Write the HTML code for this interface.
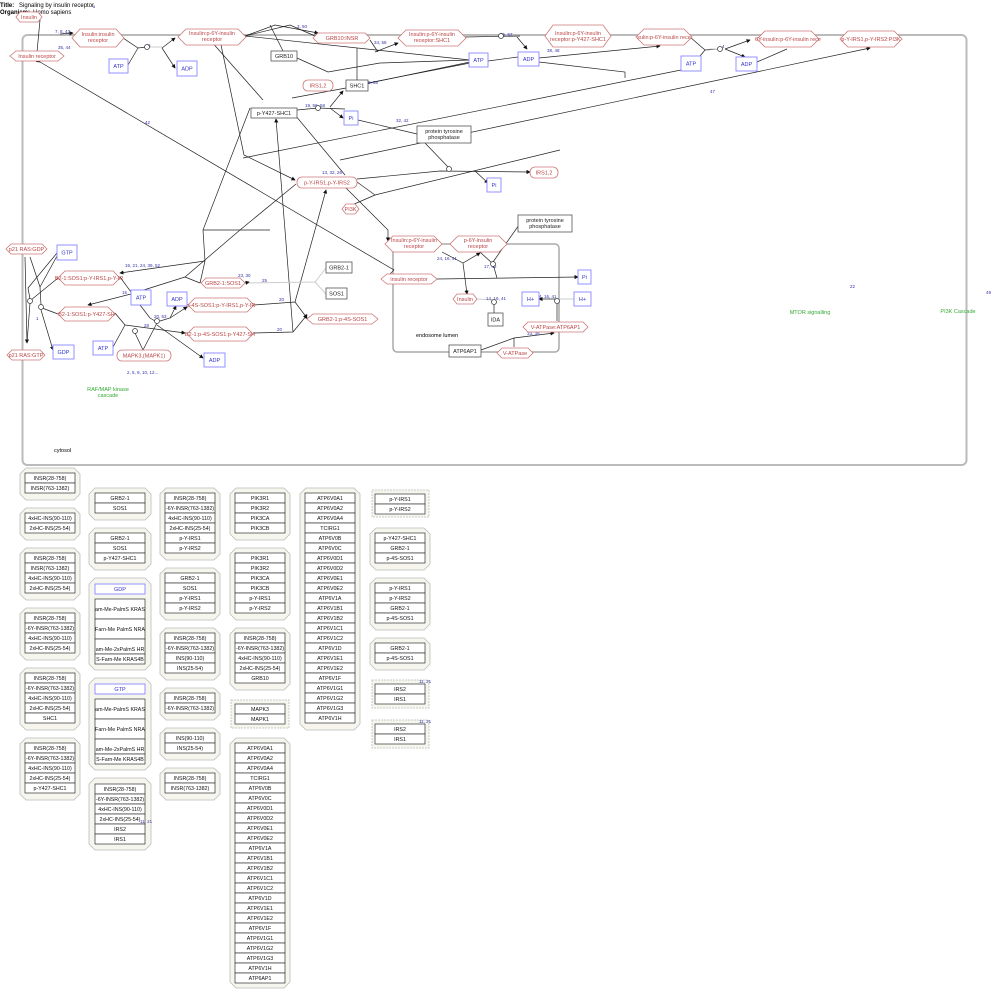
<!DOCTYPE html>
<html><head><meta charset="utf-8"><style>
html,body{margin:0;padding:0;background:#fff;width:1000px;height:998px;overflow:hidden}
svg{font-family:"Liberation Sans",sans-serif}
.hx{fill:#fff;stroke:#c77;stroke-width:.8}
.ht{fill:#b44;font-size:5.5px;text-anchor:middle}
.bx{fill:#fff;stroke:#555;stroke-width:.8}
.bt{fill:#222;font-size:5.5px;text-anchor:middle}
.bb{fill:#fff;stroke:#88f;stroke-width:.9}
.btb{fill:#33c;font-size:5.5px;text-anchor:middle}
.rr{fill:#fff;stroke:#c77;stroke-width:.8}
.l{stroke:#222;stroke-width:.7;fill:none}
.lg{stroke:#ccc;stroke-width:1;fill:none}
.lb{fill:#33a;font-size:4.5px}
.oc{fill:#f6f6ef;stroke:#bbb;stroke-width:.8}
.ocd{fill:#f6f6ef;stroke:#bbb;stroke-width:.8;stroke-dasharray:2,1}
.r{fill:#fff;stroke:#333;stroke-width:.7}
.rt{fill:#111;font-size:5.3px;text-anchor:middle}
.gr{fill:#3a3;font-size:5.5px;text-anchor:middle}
</style></head><body>
<svg width="1000" height="998" viewBox="0 0 1000 998" xmlns="http://www.w3.org/2000/svg">
<defs><marker id="a" markerWidth="6" markerHeight="6" refX="5" refY="3" orient="auto"><path d="M0,0 L6,3 L0,6z" fill="#111"/></marker></defs>
<text x="0" y="7" font-size="6" font-weight="bold">Title:</text><text x="19" y="7" font-size="6">Signaling by insulin receptor</text><text x="93" y="8" font-size="4" fill="#33a">8</text>
<text x="0" y="14" font-size="6" font-weight="bold">Organism:</text><text x="33" y="14" font-size="6">Homo sapiens</text>
<rect x="22.5" y="35" width="944" height="430" rx="5" fill="none" stroke="#bbb" stroke-width="2"/>
<rect x="393" y="244" width="166" height="108" rx="4" fill="none" stroke="#aaa" stroke-width="1.5"/>
<g class="l">
<path d="M40,20 L37,52"/>
<path d="M60,34 L73,33" marker-end="url(#a)"/>
<path d="M120,36 L138,48 L147,47"/><path d="M128,65 L138,48"/>
<path d="M162,48 L175,38" marker-end="url(#a)"/><path d="M162,48 L175,68" marker-end="url(#a)"/>
<path d="M245,36 L275,25 L318,33" marker-end="url(#a)"/>
<path d="M245,36 L290,25 L315,36"/><path d="M283,51 L270,25"/>
<path d="M297,58 L328,72 L380,63 L470,60"/><path d="M245,36 L470,60"/>
<path d="M370,40 L378,52"/><path d="M375,52 L398,43" marker-end="url(#a)"/>
<path d="M357,80 L357,48"/>
<path d="M292,98 L346,88 L470,62"/><path d="M368,83 L470,63"/>
<path d="M297,110 L318,108 L345,109"/><path d="M330,107 L343,91" marker-end="url(#a)"/><path d="M330,108 L343,118" marker-end="url(#a)"/>
<path d="M465,37 L520,36"/><path d="M488,61 L518,57"/>
<path d="M517,37 L527,49" marker-end="url(#a)"/>
<path d="M539,62 L625,72 L625,78"/><path d="M539,58 L660,46" marker-end="url(#a)"/>
<path d="M690,37 L705,50 L720,49"/><path d="M700,56 L705,50"/>
<path d="M725,49 L750,40" marker-end="url(#a)"/><path d="M725,49 L745,57" marker-end="url(#a)"/>
<path d="M757,62 L787,49"/><path d="M243,158 L681,70"/>
<path d="M340,160 L870,48" marker-end="url(#a)"/>
<path d="M358,120 L417,134"/><path d="M425,143 L449,168"/>
<path d="M357,179 L440,171 L530,172" marker-end="url(#a)"/><path d="M475,171 L488,183" marker-end="url(#a)"/>
<path d="M352,205 L375,195 L560,150"/><path d="M357,182 L375,195"/>
<path d="M345,187 L388,230 L388,241" marker-end="url(#a)"/>
<path d="M244,155 L295,180" marker-end="url(#a)"/>
<path d="M244,155 L220,40" marker-end="url(#a)"/>
<path d="M250,108 L203,230 L205,261"/>
<path d="M40,62 L394,270 L386,278" marker-start="url(#a)"/>
<path d="M295,115 L345,175"/>
<path d="M263,100 L210,40" marker-end="url(#a)"/>
<path d="M293,332 L285,230 L276,119" marker-end="url(#a)"/>
<path d="M295,302 L315,230 L326,190" marker-end="url(#a)"/>
<path d="M205,261 L120,273" marker-end="url(#a)"/><path d="M205,261 L200,283"/>
<path d="M185,277 L240,230 L296,184"/><path d="M185,277 L200,283"/>
<path d="M185,277 L131,294"/><path d="M131,294 L88,305" marker-end="url(#a)"/>
<path d="M120,277 L131,292"/>
<path d="M442,252 L463,263 L480,253" marker-end="url(#a)"/><path d="M463,263 L467,294" marker-end="url(#a)"/>
<path d="M519,225 L493,262"/><path d="M480,252 L493,264 L497,278"/>
<path d="M437,279 L578,277" marker-start="url(#a)" marker-end="url(#a)"/>
<path d="M494,305 L494,313"/><path d="M557,304 L557,321"/><path d="M557,299 L539,299" marker-end="url(#a)"/>
<path d="M481,350 L514,338 L554,333" marker-end="url(#a)"/><path d="M514,347 L514,338"/>
<path d="M25,257 L27,343" marker-end="url(#a)"/>
<path d="M30,257 L40,287 L41,305"/><path d="M57,253 L28,288 L30,299"/><path d="M57,256 L40,287"/>
<path d="M31,300 L58,278"/><path d="M42,308 L58,314"/>
<path d="M41,310 L53,350" marker-end="url(#a)"/><path d="M30,303 L27,343"/>
<path d="M140,305 L150,318 L155,321"/>
<path d="M160,321 L170,318 L176,306" marker-end="url(#a)"/><path d="M170,318 L187,307" marker-end="url(#a)"/>
<path d="M157,325 L203,358" marker-end="url(#a)"/>
<path d="M115,313 L125,325 L185,333" marker-end="url(#a)"/><path d="M113,347 L125,325"/>
<path d="M135,333 L143,350 L157,323"/>
<path d="M254,305 L295,302 L307,318" marker-end="url(#a)"/><path d="M253,333 L293,332 L307,315" marker-end="url(#a)"/>
<path d="M203,230 L270,230"/>
</g>
<g class="lg"><path d="M245,283 L315,282 L326,268"/><path d="M315,282 L326,294"/><path d="M477,299 L494,300"/><path d="M147,47 L162,47"/><path d="M591,299 L557,299"/><path d="M710,49 L720,49"/></g>
<path d="M245,283 L249,282" stroke="#222" stroke-width=".7" marker-end="url(#a)"/>
<g class="lb">
<text x="55" y="33">7, 8, 43</text><text x="58" y="49">35, 44</text><text x="148" y="47">6</text><text x="297" y="28">3, 50</text><text x="374" y="44">34, 58</text><text x="368" y="84">9, 58</text><text x="305" y="107">19, 56, 58</text><text x="396" y="122">32, 42</text><text x="322" y="174">13, 32, 26</text><text x="145" y="124">42</text><text x="710" y="93">47</text><text x="547" y="52">38, 48</text><text x="500" y="36">55, 57</text><text x="722" y="48">4</text>
<text x="437" y="260">24, 16, 41</text><text x="484" y="268">17, 42</text><text x="486" y="300">14, 16, 41</text><text x="539" y="298">4, 16, 41</text><text x="527" y="335">33, 39</text>
<text x="125" y="267">15, 21, 24, 39, 52</text><text x="238" y="277">23, 30</text><text x="262" y="282">25</text><text x="122" y="294">15</text><text x="154" y="318">20, 53</text><text x="144" y="327">28</text><text x="279" y="301">20</text><text x="277" y="331">20</text><text x="36" y="320">1</text><text x="127" y="374">2, 5, 9, 10, 12...</text><text x="850" y="288">22</text><text x="986" y="294">49</text>
</g>
<g>
<polygon class="hx" points="20,12 38,12 42,17 38,22 20,22 16,17"/><text class="ht" x="29" y="19">Insulin</text>
<polygon class="hx" points="16,51 58,51 64,56 58,61 16,61 10,56"/><text class="ht" x="37" y="58">Insulin receptor</text>
<polygon class="hx" points="80,29 116,29 124,38 116,47 80,47 72,38"/><text class="ht" x="98" y="36">Insulin:insulin</text><text class="ht" x="98" y="42">receptor</text>
<polygon class="hx" points="186,29 238,29 246,37 238,45 186,45 178,37"/><text class="ht" x="212" y="35">Insulin:p-6Y-insulin</text><text class="ht" x="212" y="41">receptor</text>
<polygon class="hx" points="318,33 365,33 370,38 365,43 318,43 313,38"/><text class="ht" x="342" y="40">GRB10:INSR</text>
<polygon class="hx" points="406,30 458,30 466,38 458,46 406,46 398,38"/><text class="ht" x="432" y="36">Insulin:p-6Y-insulin</text><text class="ht" x="432" y="42">receptor:SHC1</text>
<polygon class="hx" points="553,25 603,25 611,36 603,47 553,47 545,36"/><text class="ht" x="578" y="35">Insulin:p-6Y-insulin</text><text class="ht" x="578" y="41">receptor:p-Y427-SHC1</text>
<polygon class="hx" points="644,29 684,29 692,37 684,45 644,45 636,37"/><text class="ht" x="664" y="39">sulin:p-6Y-insulin rece</text>
<polygon class="hx" points="765,31 811,31 819,39 811,47 765,47 757,39"/><text class="ht" x="788" y="41">6Y-insulin:p-6Y-insulin rece</text>
<polygon class="hx" points="848,31 894,31 902,39 894,47 848,47 840,39"/><text class="ht" x="871" y="41">p-Y-IRS1,p-Y-IRS2:PI3K</text>
<polygon class="hx" points="346,204 355,204 359,209 355,214 346,214 342,209"/><text class="ht" x="350.5" y="211">PI3K</text>
<polygon class="hx" points="393,236 434,236 442,244 434,252 393,252 385,244"/><text class="ht" x="414" y="242">Insulin:p-6Y-insulin</text><text class="ht" x="414" y="248">receptor</text>
<polygon class="hx" points="458,236 499,236 507,244 499,252 458,252 450,244"/><text class="ht" x="478" y="242">p-6Y-insulin</text><text class="ht" x="478" y="248">receptor</text>
<polygon class="hx" points="387,274 431,274 437,279 431,284 387,284 381,279"/><text class="ht" x="409" y="281">insulin receptor</text>
<polygon class="hx" points="457,294 473,294 477,299 473,304 457,304 453,299"/><text class="ht" x="465" y="301">Insulin</text>
<polygon class="hx" points="528,322 583,322 588,327 583,332 528,332 523,327"/><text class="ht" x="555.5" y="329">V-ATPase:ATP6AP1</text>
<polygon class="hx" points="502,348 528,348 533,353 528,358 502,358 497,353"/><text class="ht" x="515" y="355">V-ATPase</text>
<polygon class="hx" points="11,244 42,244 47,249 42,254 11,254 6,249"/><text class="ht" x="26.5" y="251">p21 RAS:GDP</text>
<polygon class="hx" points="65,271 113,271 120,278 113,285 65,285 58,278"/><text class="ht" x="89" y="280">B2-1:SOS1:p-Y-IRS1,p-Y-IR</text>
<polygon class="hx" points="206,278 240,278 245,283 240,288 206,288 201,283"/><text class="ht" x="223" y="285">GRB2-1:SOS1</text>
<polygon class="hx" points="195,298 247,298 254,305 247,312 195,312 188,305"/><text class="ht" x="221" y="307">p-4S-SOS1:p-Y-IRS1,p-Y-IR</text>
<polygon class="hx" points="313,314 372,314 378,319 372,324 313,324 307,319"/><text class="ht" x="342.5" y="321">GRB2-1:p-4S-SOS1</text>
<polygon class="hx" points="65,307 108,307 115,314 108,321 65,321 58,314"/><text class="ht" x="86.5" y="316">B2-1:SOS1:p-Y427-SH</text>
<polygon class="hx" points="194,327 246,327 253,334 246,341 194,341 187,334"/><text class="ht" x="220" y="336">B2-1:p-4S-SOS1:p-Y427-SH</text>
<polygon class="hx" points="12,350 40,350 45,355 40,360 12,360 7,355"/><text class="ht" x="26" y="357">p21 RAS:GTP</text>
</g>
<rect class="rr" x="303" y="80" width="30" height="11" rx="5"/><text class="ht" x="318" y="87.5">IRS1,2</text>
<rect class="rr" x="297" y="177" width="60" height="11" rx="5"/><text class="ht" x="327" y="184.5">p-Y-IRS1,p-Y-IRS2</text>
<rect class="rr" x="530" y="167" width="28" height="11" rx="5"/><text class="ht" x="544" y="174.5">IRS1,2</text>
<rect class="rr" x="117" y="350" width="54" height="11" rx="5"/><text class="ht" x="144" y="357.5">MAPK3,(MAPK1)</text>
<rect class="bx" x="271" y="51" width="26" height="10"/><text class="bt" x="284" y="58">GRB10</text>
<rect class="bx" x="346" y="80" width="22" height="11"/><text class="bt" x="357" y="87.5">SHC1</text>
<rect class="bx" x="251" y="108" width="46" height="10"/><text class="bt" x="274" y="115">p-Y427-SHC1</text>
<rect class="bx" x="417" y="126" width="54" height="17"/><text class="bt" x="444" y="133">protein tyrosine</text><text class="bt" x="444" y="139">phosphatase</text>
<rect class="bx" x="518" y="215" width="54" height="17"/><text class="bt" x="545" y="222">protein tyrosine</text><text class="bt" x="545" y="228">phosphatase</text>
<rect class="bx" x="326" y="262" width="26" height="11"/><text class="bt" x="339" y="269.5">GRB2-1</text>
<rect class="bx" x="326" y="288" width="21" height="11"/><text class="bt" x="336.5" y="295.5">SOS1</text>
<rect class="bx" x="488" y="313" width="15" height="13"/><text class="bt" x="495.5" y="321.5">IDA</text>
<rect class="bx" x="449" y="345" width="32" height="12"/><text class="bt" x="465" y="353">ATP6AP1</text>
<g>
<rect class="bb" x="109" y="59" width="19" height="14"/><text class="btb" x="118.5" y="68">ATP</text>
<rect class="bb" x="177" y="61" width="20" height="15"/><text class="btb" x="187" y="70.5">ADP</text>
<rect class="bb" x="469" y="53" width="19" height="14"/><text class="btb" x="478.5" y="62">ATP</text>
<rect class="bb" x="518" y="52" width="21" height="14"/><text class="btb" x="528.5" y="61">ADP</text>
<rect class="bb" x="681" y="56" width="20" height="15"/><text class="btb" x="691" y="65.5">ATP</text>
<rect class="bb" x="736" y="57" width="21" height="14"/><text class="btb" x="746.5" y="66">ADP</text>
<rect class="bb" x="344" y="111" width="14" height="14"/><text class="btb" x="351" y="120">Pi</text>
<rect class="bb" x="487" y="178" width="14" height="14"/><text class="btb" x="494" y="187">Pi</text>
<rect class="bb" x="578" y="270" width="13" height="14"/><text class="btb" x="584.5" y="279">Pi</text>
<rect class="bb" x="522" y="292" width="17" height="14"/><text class="btb" x="530.5" y="301">H+</text>
<rect class="bb" x="574" y="292" width="17" height="14"/><text class="btb" x="582.5" y="301">H+</text>
<rect class="bb" x="57" y="245" width="20" height="15"/><text class="btb" x="67" y="254.5">GTP</text>
<rect class="bb" x="131" y="290" width="20" height="15"/><text class="btb" x="141" y="299.5">ATP</text>
<rect class="bb" x="167" y="292" width="20" height="14"/><text class="btb" x="177" y="301">ADP</text>
<rect class="bb" x="53" y="345" width="21" height="14"/><text class="btb" x="63.5" y="354">GDP</text>
<rect class="bb" x="93" y="341" width="20" height="14"/><text class="btb" x="103" y="350">ATP</text>
<rect class="bb" x="204" y="353" width="21" height="14"/><text class="btb" x="214.5" y="362">ADP</text>
</g>
<g fill="#fff" stroke="#333" stroke-width=".7"><circle cx="147" cy="47" r="2.5"/><circle cx="318" cy="108" r="2.5"/><circle cx="449" cy="169" r="2.5"/><circle cx="501" cy="36" r="2.5"/><circle cx="720" cy="49" r="2.5"/><circle cx="30" cy="301" r="2.5"/><circle cx="41" cy="307" r="2.5"/><circle cx="157" cy="321" r="2.5"/><circle cx="135" cy="331" r="2.5"/><circle cx="493" cy="264" r="2.5"/><circle cx="494" cy="302" r="2.5"/><circle cx="557" cy="301" r="2.5"/></g>
<text x="416" y="337" font-size="5.5">endosome lumen</text>
<text x="54" y="452" font-size="5.5">cytosol</text>
<text class="gr" x="108" y="391">RAF/MAP kinase</text><text class="gr" x="108" y="397">cascade</text>
<text class="gr" x="810" y="314">MTOR signalling</text>
<text class="gr" x="958" y="313">PI3K Cascade</text>
<g>
<polygon class="oc" points="26,468 74,468 80,474 80,494 74,500 26,500 20,494 20,474"/>
<polygon class="oc" points="26,508 74,508 80,514 80,534 74,540 26,540 20,534 20,514"/>
<polygon class="oc" points="26,548 74,548 80,554 80,594 74,600 26,600 20,594 20,554"/>
<polygon class="oc" points="26,608 74,608 80,614 80,654 74,660 26,660 20,654 20,614"/>
<polygon class="oc" points="26,668 74,668 80,674 80,724 74,730 26,730 20,724 20,674"/>
<polygon class="oc" points="26,738 74,738 80,744 80,794 74,800 26,800 20,794 20,744"/>
<polygon class="oc" points="95,488 145,488 151,494 151,514 145,520 95,520 89,514 89,494"/>
<polygon class="oc" points="95,528 145,528 151,534 151,564 145,570 95,570 89,564 89,534"/>
<polygon class="oc" points="95,578 145,578 151,584 151,664 145,670 95,670 89,664 89,584"/>
<polygon class="oc" points="95,678 145,678 151,684 151,764 145,770 95,770 89,764 89,684"/>
<polygon class="oc" points="95,778 145,778 151,784 151,844 145,850 95,850 89,844 89,784"/>
<polygon class="oc" points="166,488 214,488 220,494 220,554 214,560 166,560 160,554 160,494"/>
<polygon class="oc" points="166,568 214,568 220,574 220,614 214,620 166,620 160,614 160,574"/>
<polygon class="oc" points="166,628 214,628 220,634 220,674 214,680 166,680 160,674 160,634"/>
<polygon class="oc" points="166,688 214,688 220,694 220,714 214,720 166,720 160,714 160,694"/>
<polygon class="oc" points="166,728 214,728 220,734 220,754 214,760 166,760 160,754 160,734"/>
<polygon class="oc" points="166,768 214,768 220,774 220,794 214,800 166,800 160,794 160,774"/>
<polygon class="oc" points="236,488 284,488 290,494 290,534 284,540 236,540 230,534 230,494"/>
<polygon class="oc" points="236,548 284,548 290,554 290,614 284,620 236,620 230,614 230,554"/>
<polygon class="oc" points="236,628 284,628 290,634 290,684 284,690 236,690 230,684 230,634"/>
<rect class="ocd" x="231" y="700" width="58" height="28"/>
<polygon class="oc" points="236,738 284,738 290,744 290,982 284,988 236,988 230,982 230,744"/>
<polygon class="oc" points="306,488 354,488 360,494 360,724 354,730 306,730 300,724 300,494"/>
<rect class="ocd" x="372" y="490" width="57" height="27"/>
<polygon class="oc" points="376,528 424,528 430,534 430,564 424,570 376,570 370,564 370,534"/>
<polygon class="oc" points="376,578 424,578 430,584 430,624 424,630 376,630 370,624 370,584"/>
<polygon class="oc" points="376,638 424,638 430,644 430,664 424,670 376,670 370,664 370,644"/>
<rect class="ocd" x="372" y="680" width="57" height="28"/>
<rect class="ocd" x="372" y="720" width="57" height="28"/>
</g>
<g>
<rect class="r" x="25" y="473" width="50" height="10"/><text class="rt" x="50" y="480">INSR(28-758)</text>
<rect class="r" x="25" y="483" width="50" height="10"/><text class="rt" x="50" y="490">INSR(763-1382)</text>
<rect class="r" x="25" y="513" width="50" height="10"/><text class="rt" x="50" y="520">4xHC-INS(90-110)</text>
<rect class="r" x="25" y="523" width="50" height="10"/><text class="rt" x="50" y="530">2xHC-INS(25-54)</text>
<rect class="r" x="25" y="553" width="50" height="10"/><text class="rt" x="50" y="560">INSR(28-758)</text>
<rect class="r" x="25" y="563" width="50" height="10"/><text class="rt" x="50" y="570">INSR(763-1382)</text>
<rect class="r" x="25" y="573" width="50" height="10"/><text class="rt" x="50" y="580">4xHC-INS(90-110)</text>
<rect class="r" x="25" y="583" width="50" height="10"/><text class="rt" x="50" y="590">2xHC-INS(25-54)</text>
<rect class="r" x="25" y="613" width="50" height="10"/><text class="rt" x="50" y="620">INSR(28-758)</text>
<rect class="r" x="25" y="623" width="50" height="10"/><text class="rt" x="50" y="630">-6Y-INSR(763-1382)</text>
<rect class="r" x="25" y="633" width="50" height="10"/><text class="rt" x="50" y="640">4xHC-INS(90-110)</text>
<rect class="r" x="25" y="643" width="50" height="10"/><text class="rt" x="50" y="650">2xHC-INS(25-54)</text>
<rect class="r" x="25" y="673" width="50" height="10"/><text class="rt" x="50" y="680">INSR(28-758)</text>
<rect class="r" x="25" y="683" width="50" height="10"/><text class="rt" x="50" y="690">-6Y-INSR(763-1382)</text>
<rect class="r" x="25" y="693" width="50" height="10"/><text class="rt" x="50" y="700">4xHC-INS(90-110)</text>
<rect class="r" x="25" y="703" width="50" height="10"/><text class="rt" x="50" y="710">2xHC-INS(25-54)</text>
<rect class="r" x="25" y="713" width="50" height="10"/><text class="rt" x="50" y="720">SHC1</text>
<rect class="r" x="25" y="743" width="50" height="10"/><text class="rt" x="50" y="750">INSR(28-758)</text>
<rect class="r" x="25" y="753" width="50" height="10"/><text class="rt" x="50" y="760">-6Y-INSR(763-1382)</text>
<rect class="r" x="25" y="763" width="50" height="10"/><text class="rt" x="50" y="770">4xHC-INS(90-110)</text>
<rect class="r" x="25" y="773" width="50" height="10"/><text class="rt" x="50" y="780">2xHC-INS(25-54)</text>
<rect class="r" x="25" y="783" width="50" height="10"/><text class="rt" x="50" y="790">p-Y427-SHC1</text>
<rect class="r" x="95" y="493" width="50" height="10"/><text class="rt" x="120" y="500">GRB2-1</text>
<rect class="r" x="95" y="503" width="50" height="10"/><text class="rt" x="120" y="510">SOS1</text>
<rect class="r" x="95" y="533" width="50" height="10"/><text class="rt" x="120" y="540">GRB2-1</text>
<rect class="r" x="95" y="543" width="50" height="10"/><text class="rt" x="120" y="550">SOS1</text>
<rect class="r" x="95" y="553" width="50" height="10"/><text class="rt" x="120" y="560">p-Y427-SHC1</text>
<rect class="bb" x="95" y="584" width="50" height="10"/><text class="btb" x="120" y="591">GDP</text>
<rect class="r" x="95" y="599" width="50" height="20"/><text class="rt" x="120" y="611">am-Me-PalmS KRAS</text>
<rect class="r" x="95" y="619" width="50" height="20"/><text class="rt" x="120" y="631">Farn-Me PalmS NRA</text>
<rect class="r" x="95" y="639" width="50" height="15"/><text class="rt" x="120" y="651">am-Me-2xPalmS HR</text>
<rect class="r" x="95" y="654" width="50" height="10"/><text class="rt" x="120" y="661">S-Farn-Me KRAS4B</text>
<rect class="bb" x="95" y="684" width="50" height="10"/><text class="btb" x="120" y="691">GTP</text>
<rect class="r" x="95" y="699" width="50" height="20"/><text class="rt" x="120" y="711">am-Me-PalmS KRAS</text>
<rect class="r" x="95" y="719" width="50" height="20"/><text class="rt" x="120" y="731">Farn-Me PalmS NRA</text>
<rect class="r" x="95" y="739" width="50" height="15"/><text class="rt" x="120" y="751">am-Me-2xPalmS HR</text>
<rect class="r" x="95" y="754" width="50" height="10"/><text class="rt" x="120" y="761">S-Farn-Me KRAS4B</text>
<rect class="r" x="95" y="784" width="50" height="10"/><text class="rt" x="120" y="791">INSR(28-758)</text>
<rect class="r" x="95" y="794" width="50" height="10"/><text class="rt" x="120" y="801">-6Y-INSR(763-1382)</text>
<rect class="r" x="95" y="804" width="50" height="10"/><text class="rt" x="120" y="811">4xHC-INS(90-110)</text>
<rect class="r" x="95" y="814" width="50" height="10"/><text class="rt" x="120" y="821">2xHC-INS(25-54)</text>
<rect class="r" x="95" y="824" width="50" height="10"/><text class="rt" x="120" y="831">IRS2</text>
<rect class="r" x="95" y="834" width="50" height="10"/><text class="rt" x="120" y="841">IRS1</text>
<text class="lb" x="140" y="823">11, 21</text>
<rect class="r" x="165" y="493" width="50" height="10"/><text class="rt" x="190" y="500">INSR(28-758)</text>
<rect class="r" x="165" y="503" width="50" height="10"/><text class="rt" x="190" y="510">-6Y-INSR(763-1382)</text>
<rect class="r" x="165" y="513" width="50" height="10"/><text class="rt" x="190" y="520">4xHC-INS(90-110)</text>
<rect class="r" x="165" y="523" width="50" height="10"/><text class="rt" x="190" y="530">2xHC-INS(25-54)</text>
<rect class="r" x="165" y="533" width="50" height="10"/><text class="rt" x="190" y="540">p-Y-IRS1</text>
<rect class="r" x="165" y="543" width="50" height="10"/><text class="rt" x="190" y="550">p-Y-IRS2</text>
<rect class="r" x="165" y="573" width="50" height="10"/><text class="rt" x="190" y="580">GRB2-1</text>
<rect class="r" x="165" y="583" width="50" height="10"/><text class="rt" x="190" y="590">SOS1</text>
<rect class="r" x="165" y="593" width="50" height="10"/><text class="rt" x="190" y="600">p-Y-IRS1</text>
<rect class="r" x="165" y="603" width="50" height="10"/><text class="rt" x="190" y="610">p-Y-IRS2</text>
<rect class="r" x="165" y="633" width="50" height="10"/><text class="rt" x="190" y="640">INSR(28-758)</text>
<rect class="r" x="165" y="643" width="50" height="10"/><text class="rt" x="190" y="650">-6Y-INSR(763-1382)</text>
<rect class="r" x="165" y="653" width="50" height="10"/><text class="rt" x="190" y="660">INS(90-110)</text>
<rect class="r" x="165" y="663" width="50" height="10"/><text class="rt" x="190" y="670">INS(25-54)</text>
<rect class="r" x="165" y="693" width="50" height="10"/><text class="rt" x="190" y="700">INSR(28-758)</text>
<rect class="r" x="165" y="703" width="50" height="10"/><text class="rt" x="190" y="710">-6Y-INSR(763-1382)</text>
<rect class="r" x="165" y="733" width="50" height="10"/><text class="rt" x="190" y="740">INS(90-110)</text>
<rect class="r" x="165" y="743" width="50" height="10"/><text class="rt" x="190" y="750">INS(25-54)</text>
<rect class="r" x="165" y="773" width="50" height="10"/><text class="rt" x="190" y="780">INSR(28-758)</text>
<rect class="r" x="165" y="783" width="50" height="10"/><text class="rt" x="190" y="790">INSR(763-1382)</text>
<rect class="r" x="235" y="493" width="50" height="10"/><text class="rt" x="260" y="500">PIK3R1</text>
<rect class="r" x="235" y="503" width="50" height="10"/><text class="rt" x="260" y="510">PIK3R2</text>
<rect class="r" x="235" y="513" width="50" height="10"/><text class="rt" x="260" y="520">PIK3CA</text>
<rect class="r" x="235" y="523" width="50" height="10"/><text class="rt" x="260" y="530">PIK3CB</text>
<rect class="r" x="235" y="553" width="50" height="10"/><text class="rt" x="260" y="560">PIK3R1</text>
<rect class="r" x="235" y="563" width="50" height="10"/><text class="rt" x="260" y="570">PIK3R2</text>
<rect class="r" x="235" y="573" width="50" height="10"/><text class="rt" x="260" y="580">PIK3CA</text>
<rect class="r" x="235" y="583" width="50" height="10"/><text class="rt" x="260" y="590">PIK3CB</text>
<rect class="r" x="235" y="593" width="50" height="10"/><text class="rt" x="260" y="600">p-Y-IRS1</text>
<rect class="r" x="235" y="603" width="50" height="10"/><text class="rt" x="260" y="610">p-Y-IRS2</text>
<rect class="r" x="235" y="633" width="50" height="10"/><text class="rt" x="260" y="640">INSR(28-758)</text>
<rect class="r" x="235" y="643" width="50" height="10"/><text class="rt" x="260" y="650">-6Y-INSR(763-1382)</text>
<rect class="r" x="235" y="653" width="50" height="10"/><text class="rt" x="260" y="660">4xHC-INS(90-110)</text>
<rect class="r" x="235" y="663" width="50" height="10"/><text class="rt" x="260" y="670">2xHC-INS(25-54)</text>
<rect class="r" x="235" y="673" width="50" height="10"/><text class="rt" x="260" y="680">GRB10</text>
<rect class="r" x="235" y="704" width="50" height="10"/><text class="rt" x="260" y="711">MAPK3</text>
<rect class="r" x="235" y="714" width="50" height="10"/><text class="rt" x="260" y="721">MAPK1</text>
</g>
<g>
<rect class="r" x="235" y="743" width="50" height="10"/><text class="rt" x="260" y="750">ATP6V0A1</text>
<rect class="r" x="235" y="753" width="50" height="10"/><text class="rt" x="260" y="760">ATP6V0A2</text>
<rect class="r" x="235" y="763" width="50" height="10"/><text class="rt" x="260" y="770">ATP6V0A4</text>
<rect class="r" x="235" y="773" width="50" height="10"/><text class="rt" x="260" y="780">TCIRG1</text>
<rect class="r" x="235" y="783" width="50" height="10"/><text class="rt" x="260" y="790">ATP6V0B</text>
<rect class="r" x="235" y="793" width="50" height="10"/><text class="rt" x="260" y="800">ATP6V0C</text>
<rect class="r" x="235" y="803" width="50" height="10"/><text class="rt" x="260" y="810">ATP6V0D1</text>
<rect class="r" x="235" y="813" width="50" height="10"/><text class="rt" x="260" y="820">ATP6V0D2</text>
<rect class="r" x="235" y="823" width="50" height="10"/><text class="rt" x="260" y="830">ATP6V0E1</text>
<rect class="r" x="235" y="833" width="50" height="10"/><text class="rt" x="260" y="840">ATP6V0E2</text>
<rect class="r" x="235" y="843" width="50" height="10"/><text class="rt" x="260" y="850">ATP6V1A</text>
<rect class="r" x="235" y="853" width="50" height="10"/><text class="rt" x="260" y="860">ATP6V1B1</text>
<rect class="r" x="235" y="863" width="50" height="10"/><text class="rt" x="260" y="870">ATP6V1B2</text>
<rect class="r" x="235" y="873" width="50" height="10"/><text class="rt" x="260" y="880">ATP6V1C1</text>
<rect class="r" x="235" y="883" width="50" height="10"/><text class="rt" x="260" y="890">ATP6V1C2</text>
<rect class="r" x="235" y="893" width="50" height="10"/><text class="rt" x="260" y="900">ATP6V1D</text>
<rect class="r" x="235" y="903" width="50" height="10"/><text class="rt" x="260" y="910">ATP6V1E1</text>
<rect class="r" x="235" y="913" width="50" height="10"/><text class="rt" x="260" y="920">ATP6V1E2</text>
<rect class="r" x="235" y="923" width="50" height="10"/><text class="rt" x="260" y="930">ATP6V1F</text>
<rect class="r" x="235" y="933" width="50" height="10"/><text class="rt" x="260" y="940">ATP6V1G1</text>
<rect class="r" x="235" y="943" width="50" height="10"/><text class="rt" x="260" y="950">ATP6V1G2</text>
<rect class="r" x="235" y="953" width="50" height="10"/><text class="rt" x="260" y="960">ATP6V1G3</text>
<rect class="r" x="235" y="963" width="50" height="10"/><text class="rt" x="260" y="970">ATP6V1H</text>
<rect class="r" x="235" y="973" width="50" height="10"/><text class="rt" x="260" y="980">ATP6AP1</text>
<rect class="r" x="305" y="493" width="50" height="10"/><text class="rt" x="330" y="500">ATP6V0A1</text>
<rect class="r" x="305" y="503" width="50" height="10"/><text class="rt" x="330" y="510">ATP6V0A2</text>
<rect class="r" x="305" y="513" width="50" height="10"/><text class="rt" x="330" y="520">ATP6V0A4</text>
<rect class="r" x="305" y="523" width="50" height="10"/><text class="rt" x="330" y="530">TCIRG1</text>
<rect class="r" x="305" y="533" width="50" height="10"/><text class="rt" x="330" y="540">ATP6V0B</text>
<rect class="r" x="305" y="543" width="50" height="10"/><text class="rt" x="330" y="550">ATP6V0C</text>
<rect class="r" x="305" y="553" width="50" height="10"/><text class="rt" x="330" y="560">ATP6V0D1</text>
<rect class="r" x="305" y="563" width="50" height="10"/><text class="rt" x="330" y="570">ATP6V0D2</text>
<rect class="r" x="305" y="573" width="50" height="10"/><text class="rt" x="330" y="580">ATP6V0E1</text>
<rect class="r" x="305" y="583" width="50" height="10"/><text class="rt" x="330" y="590">ATP6V0E2</text>
<rect class="r" x="305" y="593" width="50" height="10"/><text class="rt" x="330" y="600">ATP6V1A</text>
<rect class="r" x="305" y="603" width="50" height="10"/><text class="rt" x="330" y="610">ATP6V1B1</text>
<rect class="r" x="305" y="613" width="50" height="10"/><text class="rt" x="330" y="620">ATP6V1B2</text>
<rect class="r" x="305" y="623" width="50" height="10"/><text class="rt" x="330" y="630">ATP6V1C1</text>
<rect class="r" x="305" y="633" width="50" height="10"/><text class="rt" x="330" y="640">ATP6V1C2</text>
<rect class="r" x="305" y="643" width="50" height="10"/><text class="rt" x="330" y="650">ATP6V1D</text>
<rect class="r" x="305" y="653" width="50" height="10"/><text class="rt" x="330" y="660">ATP6V1E1</text>
<rect class="r" x="305" y="663" width="50" height="10"/><text class="rt" x="330" y="670">ATP6V1E2</text>
<rect class="r" x="305" y="673" width="50" height="10"/><text class="rt" x="330" y="680">ATP6V1F</text>
<rect class="r" x="305" y="683" width="50" height="10"/><text class="rt" x="330" y="690">ATP6V1G1</text>
<rect class="r" x="305" y="693" width="50" height="10"/><text class="rt" x="330" y="700">ATP6V1G2</text>
<rect class="r" x="305" y="703" width="50" height="10"/><text class="rt" x="330" y="710">ATP6V1G3</text>
<rect class="r" x="305" y="713" width="50" height="10"/><text class="rt" x="330" y="720">ATP6V1H</text>
<rect class="r" x="375" y="494" width="50" height="10"/><text class="rt" x="400" y="501">p-Y-IRS1</text>
<rect class="r" x="375" y="504" width="50" height="10"/><text class="rt" x="400" y="511">p-Y-IRS2</text>
<rect class="r" x="375" y="533" width="50" height="10"/><text class="rt" x="400" y="540">p-Y427-SHC1</text>
<rect class="r" x="375" y="543" width="50" height="10"/><text class="rt" x="400" y="550">GRB2-1</text>
<rect class="r" x="375" y="553" width="50" height="10"/><text class="rt" x="400" y="560">p-4S-SOS1</text>
<rect class="r" x="375" y="583" width="50" height="10"/><text class="rt" x="400" y="590">p-Y-IRS1</text>
<rect class="r" x="375" y="593" width="50" height="10"/><text class="rt" x="400" y="600">p-Y-IRS2</text>
<rect class="r" x="375" y="603" width="50" height="10"/><text class="rt" x="400" y="610">GRB2-1</text>
<rect class="r" x="375" y="613" width="50" height="10"/><text class="rt" x="400" y="620">p-4S-SOS1</text>
<rect class="r" x="375" y="643" width="50" height="10"/><text class="rt" x="400" y="650">GRB2-1</text>
<rect class="r" x="375" y="653" width="50" height="10"/><text class="rt" x="400" y="660">p-4S-SOS1</text>
<rect class="r" x="375" y="684" width="50" height="10"/><text class="rt" x="400" y="691">IRS2</text>
<rect class="r" x="375" y="694" width="50" height="10"/><text class="rt" x="400" y="701">IRS1</text>
<text class="lb" x="419" y="683">11, 21</text>
<rect class="r" x="375" y="724" width="50" height="10"/><text class="rt" x="400" y="731">IRS2</text>
<rect class="r" x="375" y="734" width="50" height="10"/><text class="rt" x="400" y="741">IRS1</text>
<text class="lb" x="419" y="723">11, 21</text>
</g>
</svg>
</body></html>
